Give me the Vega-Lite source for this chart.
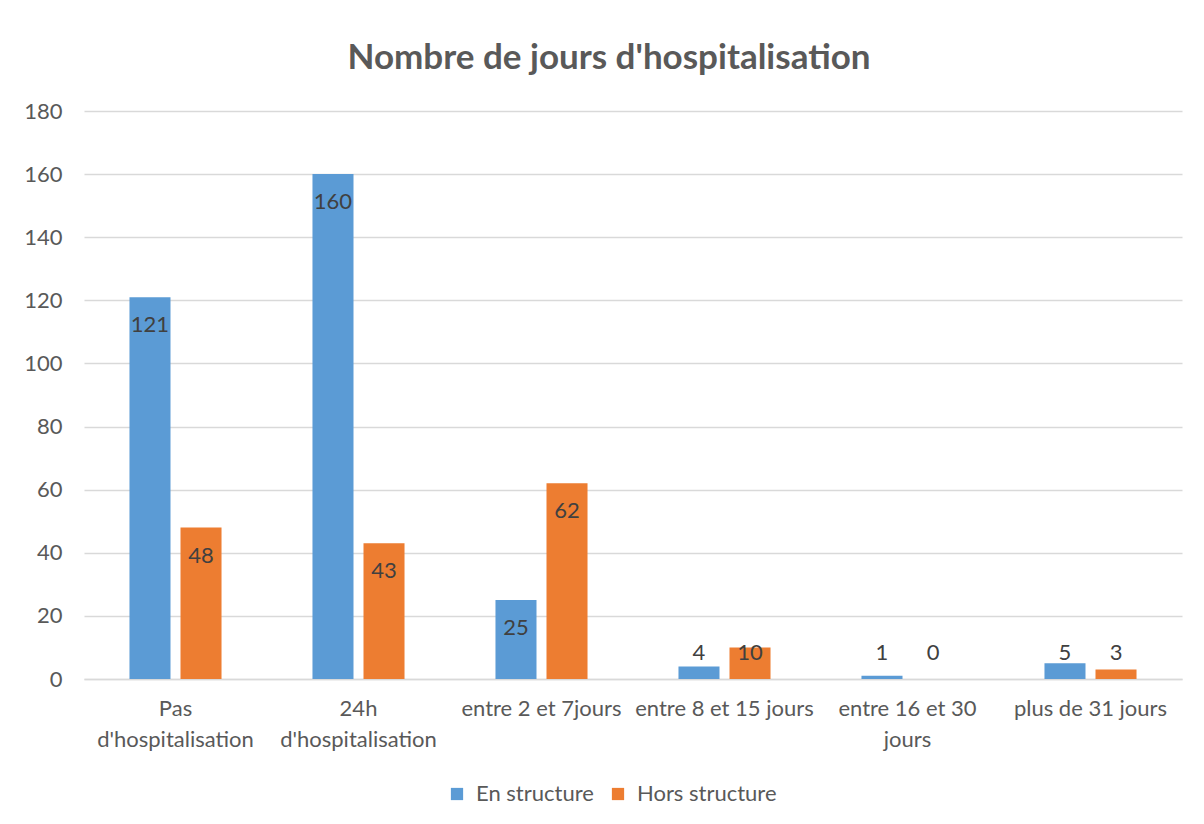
{
  "$schema": "https://vega.github.io/schema/vega-lite/v6.json",
  "autosize": "none",
  "width": 1098,
  "height": 568,
  "padding": {"left": 84, "top": 111, "right": 22, "bottom": 145},
  "background": "white",
  "title": {
    "text": "Nombre de jours d'hospitalisation",
    "font": "Lato",
    "fontSize": 35,
    "fontWeight": "bold",
    "color": "#595959",
    "anchor": "middle",
    "frame": "group",
    "dx": -24,
    "offset": 24
  },
  "config": {
    "view": {"stroke": null},
    "font": "Lato",
    "axis": {"labelFont": "Lato", "labelColor": "#595959", "labelFontSize": 22},
    "legend": {"labelFont": "Lato", "labelColor": "#595959", "labelFontSize": 22}
  },
  "data": {
    "values": [
      {"category": "Pas|d'hospitalisation", "series": "En structure", "value": 121},
      {"category": "Pas|d'hospitalisation", "series": "Hors structure", "value": 48},
      {"category": "24h|d'hospitalisation", "series": "En structure", "value": 160},
      {"category": "24h|d'hospitalisation", "series": "Hors structure", "value": 43},
      {"category": "entre 2 et 7jours", "series": "En structure", "value": 25},
      {"category": "entre 2 et 7jours", "series": "Hors structure", "value": 62},
      {"category": "entre 8 et 15 jours", "series": "En structure", "value": 4},
      {"category": "entre 8 et 15 jours", "series": "Hors structure", "value": 10},
      {"category": "entre 16 et 30|jours", "series": "En structure", "value": 1},
      {"category": "entre 16 et 30|jours", "series": "Hors structure", "value": 0},
      {"category": "plus de 31 jours", "series": "En structure", "value": 5},
      {"category": "plus de 31 jours", "series": "Hors structure", "value": 3}
    ]
  },
  "encoding": {
    "x": {
      "field": "category",
      "type": "nominal",
      "sort": null,
      "title": null,
      "scale": {"paddingInner": 0.497, "paddingOuter": 0.2485},
      "axis": {
        "labelAngle": 0,
        "labelExpr": "split(datum.label, '|')",
        "labelLineHeight": 31,
        "labelBaseline": "top",
        "labelPadding": 19,
        "ticks": false,
        "domain": true,
        "domainColor": "#D9D9D9",
        "domainWidth": 1.5,
        "labelLimit": 300
      }
    },
    "xOffset": {
      "field": "series",
      "type": "nominal",
      "sort": ["En structure", "Hors structure"],
      "scale": {"paddingInner": 0.196, "paddingOuter": 0}
    }
  },
  "layer": [
    {
      "mark": {"type": "bar"},
      "encoding": {
        "y": {
          "field": "value",
          "type": "quantitative",
          "title": null,
          "scale": {"domain": [0, 180], "nice": false},
          "axis": {
            "values": [0, 20, 40, 60, 80, 100, 120, 140, 160, 180],
            "grid": true,
            "gridColor": "#D9D9D9",
            "gridWidth": 1.5,
            "domain": false,
            "ticks": false,
            "labelPadding": 22
          }
        },
        "color": {
          "field": "series",
          "type": "nominal",
          "sort": ["En structure", "Hors structure"],
          "scale": {"domain": ["En structure", "Hors structure"], "range": ["#5B9BD5", "#ED7D31"]},
          "legend": {
            "title": null,
            "orient": "none",
            "direction": "horizontal",
            "legendX": 362,
            "legendY": 672,
            "symbolType": "square",
            "symbolSize": 150,
            "symbolStrokeWidth": 0,
            "labelOffset": 8,
            "columnPadding": 13
          }
        }
      }
    },
    {
      "transform": [{"filter": "datum.value > 17.1"}],
      "mark": {"type": "text", "fontSize": 22, "color": "#404040", "baseline": "middle", "dy": 28, "font": "Lato"},
      "encoding": {
        "y": {"field": "value", "type": "quantitative"},
        "text": {"field": "value", "type": "quantitative"}
      }
    },
    {
      "transform": [{"filter": "datum.value <= 17.1"}],
      "mark": {"type": "text", "fontSize": 22, "color": "#404040", "baseline": "middle", "font": "Lato"},
      "encoding": {
        "y": {"datum": 8.24, "type": "quantitative"},
        "text": {"field": "value", "type": "quantitative"}
      }
    }
  ]
}
